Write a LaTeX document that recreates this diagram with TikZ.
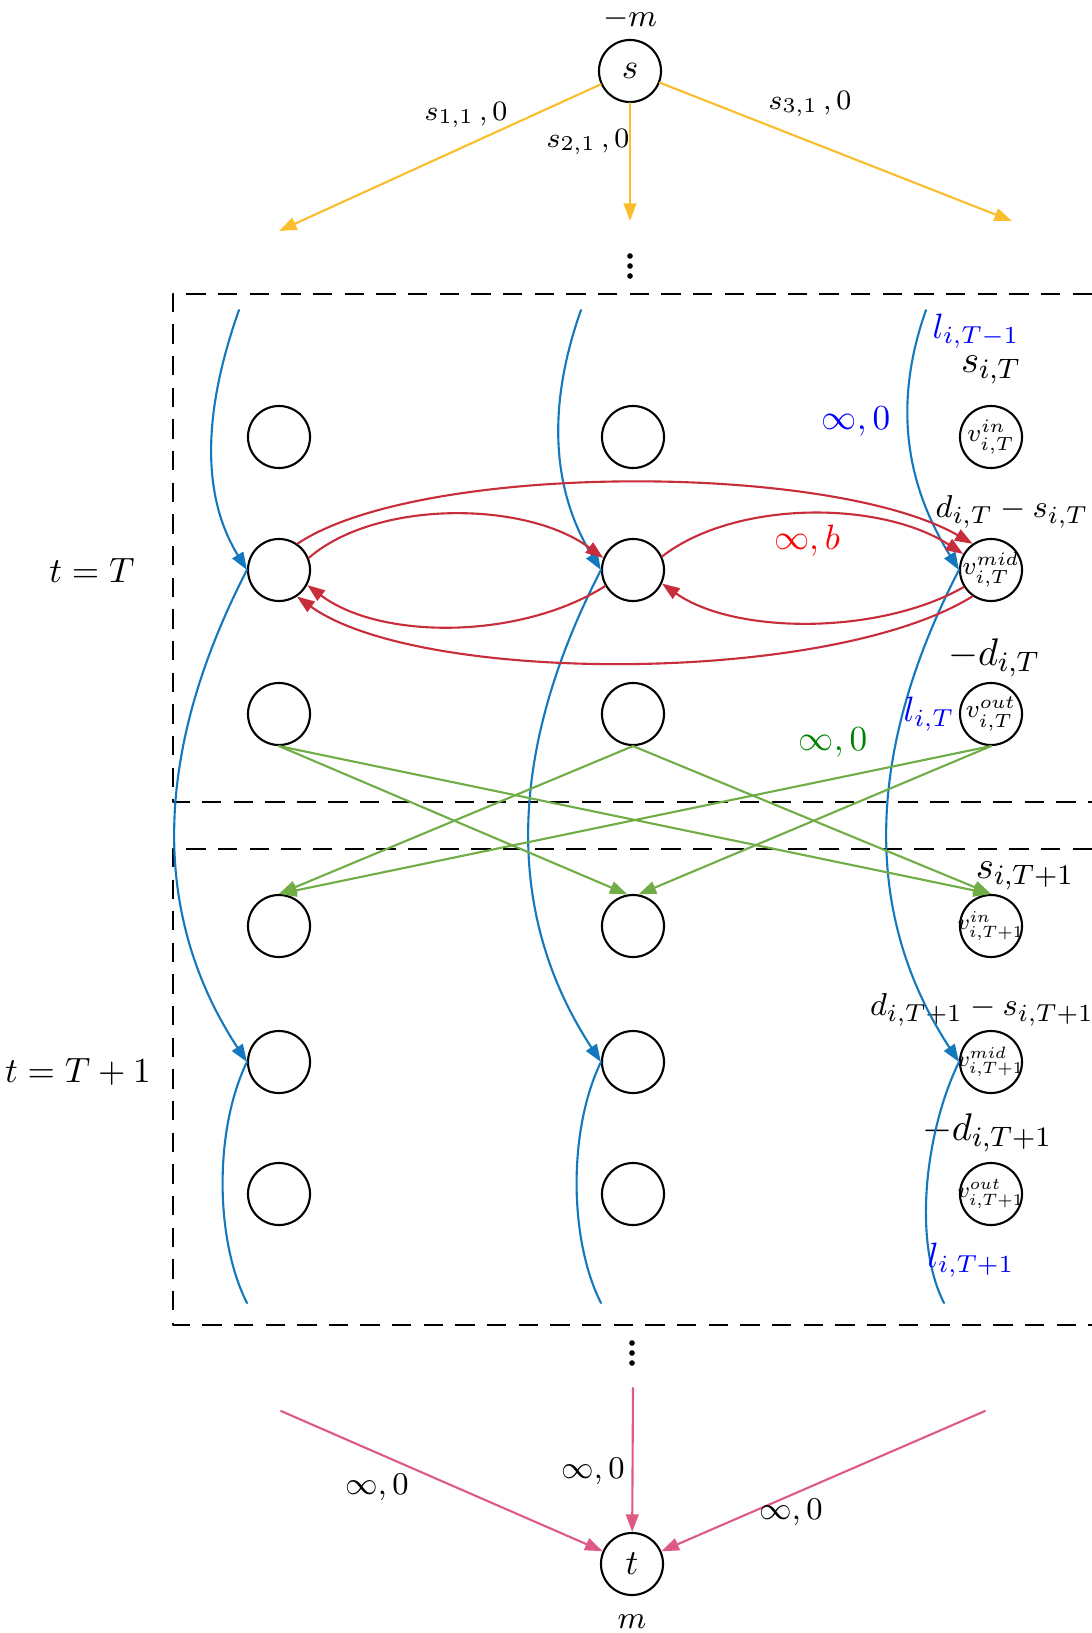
\documentclass[tikz,border=0pt]{standalone}
\usetikzlibrary{arrows.meta}
\definecolor{srcyel}{RGB}{250,190,45}
\definecolor{flowblue}{RGB}{20,120,190}
\definecolor{arcred}{RGB}{200,45,60}
\definecolor{arcgreen}{RGB}{112,173,71}
\definecolor{txtgreen}{RGB}{0,128,0}
\definecolor{snkpink}{RGB}{222,90,130}
\begin{document}
\begin{tikzpicture}[x=0.01cm, y=-0.01cm, font=\small, line join=round, line cap=round,
	>={Triangle[length=5pt,width=3.6pt]},
	vtx/.style={circle, draw, line width=0.6pt, minimum size=0.62cm, inner sep=0pt, font=\footnotesize},
	vtxs/.style={vtx, inner sep=-2.5pt},
	boxline/.style={line width=0.8pt, line cap=butt, dash pattern=on 5.5pt off 3.5pt},
	yel/.style={draw=srcyel, line width=0.6pt, ->},
	flow/.style={draw=flowblue, line width=0.6pt},
	redarc/.style={draw=arcred, line width=0.6pt, ->},
	grn/.style={draw=arcgreen, line width=0.6pt, ->},
	snk/.style={draw=snkpink, line width=0.6pt, ->},
	big/.style={inner sep=1pt, font=\fontsize{11}{13}\selectfont},
	mid/.style={inner sep=1pt, font=\fontsize{9.5}{11}\selectfont}]
	\useasboundingbox (0,0) rectangle (1092,1633);
	% source and sink
	\node[vtx, font=\normalsize] (s) at (630,71) {$s$};
	\node[vtx, font=\normalsize] (t) at (632,1564) {$t$};
	\node (sval) at (630,19) {$-m$};
	\node (tval) at (632,1622) {$m$};
	% periods
	\draw[boxline] (1092,294) -- (173,294) -- (173,802) -- (1092,802);
	\draw[boxline] (1092,849) -- (173,849) -- (173,1325) -- (1092,1325);
	\foreach \y in {256,266,276}{
		\fill (630,\y) circle (0.8pt);
		\fill (632,\y+1087) circle (0.8pt);
	}
	\node[font=\normalsize] (perT) at (92,570) {$t = T$};
	\node[font=\normalsize] (perTT) at (78,1072) {$t = T+1$};
	\foreach \c/\x in {1/279,2/633}{
		\node[vtx] (in\c) at (\x,437) {};
		\node[vtx] (mid\c) at (\x,570) {};
		\node[vtx] (out\c) at (\x,714) {};
		\node[vtx] (nin\c) at (\x,926) {};
		\node[vtx] (nmid\c) at (\x,1062) {};
		\node[vtx] (nout\c) at (\x,1194) {};
	}
	\node[vtxs] (in3) at (991,437) {\scalebox{0.9}{$v^{in}_{i,T}$}};
	\node[vtxs] (mid3) at (991,570) {\scalebox{0.9}{$v^{mid}_{i,T}$}};
	\node[vtxs] (out3) at (991,714) {\scalebox{0.9}{$v^{out}_{i,T}$}};
	\node[vtxs] (nin3) at (991,926) {\scalebox{0.78}{$v^{in}_{i,T+1}$}};
	\node[vtxs] (nmid3) at (991,1062) {\scalebox{0.78}{$v^{mid}_{i,T+1}$}};
	\node[vtxs] (nout3) at (991,1194) {\scalebox{0.78}{$v^{out}_{i,T+1}$}};
	% supplies and demands
	\path[big]
	node (sT) at (991,370) {$s_{i,T}$}
	node (dT) at (994,658) {$-d_{i,T}$}
	node (sTT) at (1025,876) {$s_{i,T+1}$}
	node (dTT) at (987,1133) {$-d_{i,T+1}$};
	\path[mid]
	node (dsT) at (1012,512) {$d_{i,T} - s_{i,T}$}
	node (dsTT) at (982,1010) {$d_{i,T+1} - s_{i,T+1}$};
	% source arcs
	\coordinate (ya) at (279,231);
	\coordinate (yb) at (630,221);
	\coordinate (yc) at (1012,221);
	\foreach \y in {ya,yb,yc}{
		\draw[yel] (s) -- (\y);
	}
	\path[font=\footnotesize]
	node at (466,115) {$s_{1,1}\,,0$}
	node at (588,142) {$s_{2,1}\,,0$}
	node at (810,104) {$s_{3,1}\,,0$};
	% storage arcs
	\foreach \c/\tx/\bx in {1/239/247,2/581/601,3/926/944}{
		\coordinate (top\c) at (\tx,310);
		\coordinate (bot\c) at (\bx,1303);
		\draw[flow,->] (top\c) .. controls +(-39,110) and +(-43,-70) .. (mid\c.west);
		\draw[flow,->] (mid\c.west) .. controls +(-98,190) and +(-93,-142) .. (nmid\c.west);
		\draw[flow] (nmid\c.west) .. controls +(-33,68) and +(-32,-63) .. (bot\c);
	}
	\path[font=\normalsize, text=blue, inner sep=1pt]
	node (lTm) at (976,331) {$l_{i,T-1}$}
	node (lcap) at (856,422) {$\infty,0$}
	node (lT) at (929,714) {$l_{i,T}$}
	node (lTp) at (971,1260) {$l_{i,T+1}$};
	% transmission arcs
	\draw[redarc] (mid1.55) .. controls (420,462) and (830,462) .. (mid3.125);
	\draw[redarc] (mid1.22) .. controls (375,500) and (525,500) .. (mid2.158);
	\draw[redarc] (mid2.25) .. controls (735,500) and (880,500) .. (mid3.150);
	\draw[redarc] (mid3.212) .. controls (880,635) and (735,635) .. (mid2.-25);
	\draw[redarc] (mid2.210) .. controls (520,640) and (380,640) .. (mid1.-28);
	\draw[redarc] (mid3.235) .. controls (830,685) and (420,685) .. (mid1.-56);
	\node[font=\normalsize, text=red] (rcap) at (807,541) {$\infty,b$};
	% between periods
	\foreach \a/\b in {1/nin2.100, 1/nin3.north, 2/nin1.north, 2/nin3.north, 3/nin1.north, 3/nin2.80}{
		\draw[grn] (out\a.south) -- (\b);
	}
	\node[font=\normalsize, text=txtgreen] (gcap) at (833,743) {$\infty,0$};
	% sink arcs
	\coordinate (pa) at (281,1411);
	\coordinate (pb) at (633,1388);
	\coordinate (pc) at (985,1411);
	\foreach \p in {pa,pb,pc}{
		\draw[snk] (\p) -- (t);
	}
	\path
	node at (377,1487) {$\infty,0$}
	node at (593,1471) {$\infty,0$}
	node at (791,1512) {$\infty,0$};
\end{tikzpicture}
\end{document}
